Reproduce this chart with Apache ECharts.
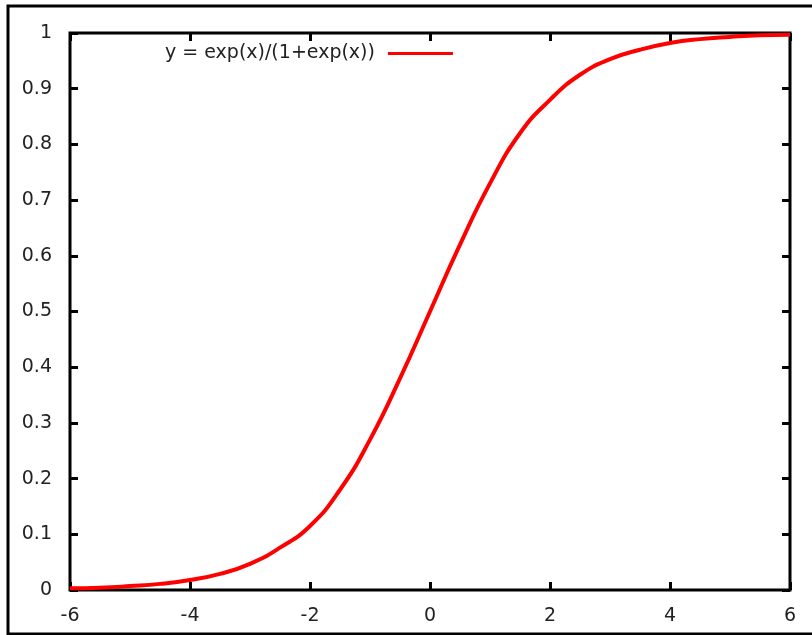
<!DOCTYPE html>
<html>
<head>
<meta charset="utf-8">
<script src="https://cdn.jsdelivr.net/npm/echarts@6/dist/echarts.min.js"></script>
<style>
  html, body { margin: 0; padding: 0; background: #fff; }
  #main { width: 812px; height: 635px; }
</style>
</head>
<body>
<div id="main"></div>
<script>
// values
var xs = [-6, -5.5, -5, -4.5, -4, -3.5, -3, -2.5, -2, -1.5, -1, -0.5, 0,
          0.5, 1, 1.5, 2, 2.5, 3, 3.5, 4, 4.5, 5, 5.5, 6];
var ys = [0.003, 0.004, 0.007, 0.011, 0.018, 0.029, 0.047, 0.076, 0.115, 0.18, 0.27, 0.38, 0.5,
          0.62, 0.73, 0.82, 0.88, 0.925, 0.953, 0.97, 0.982, 0.989, 0.993, 0.996, 0.997];
var seriesName = 'y = exp(x)/(1+exp(x))';

var points = [];
for (var i = 0; i < xs.length; i++) {
    points.push([xs[i], ys[i]]);
}

var fontName = '"DejaVu Sans", Arial, sans-serif';
var labelFont = { fontFamily: fontName, fontSize: 19, color: '#222' };
var tickStyle = { inside: true, length: 8, lineStyle: { color: '#000', width: 3 } };
var noLine = { show: false, onZero: false };

var myChart = echarts.init(document.getElementById('main'), null, { renderer: 'canvas' });

var option = {
    backgroundColor: '#fff',
    animation: false,
    grid: {
        left: 70, top: 33, right: 22, bottom: 45,
        show: true, borderColor: '#000', borderWidth: 3,
        containLabel: false
    },
    legend: {
        left: 160, top: 39,
        align: 'right',
        icon: 'rect',
        itemWidth: 65, itemHeight: 3,
        textStyle: { fontFamily: fontName, fontSize: 19, color: '#222', padding: [0, 8, 0, 0] },
        data: [seriesName]
    },
    xAxis: [{
        type: 'value', min: -6, max: 6, interval: 2,
        axisLine: noLine,
        axisTick: tickStyle,
        splitLine: { show: false },
        axisLabel: Object.assign({ margin: 17 }, labelFont)
    }, {
        type: 'value', position: 'top', min: -6, max: 6, interval: 2,
        axisLine: noLine,
        axisTick: tickStyle,
        splitLine: { show: false },
        axisLabel: { show: false }
    }],
    yAxis: [{
        type: 'value', min: 0, max: 1, interval: 0.1,
        axisLine: noLine,
        axisTick: tickStyle,
        splitLine: { show: false },
        axisLabel: Object.assign({ margin: 18 }, labelFont)
    }, {
        type: 'value', position: 'right', min: 0, max: 1, interval: 0.1,
        axisLine: noLine,
        axisTick: tickStyle,
        splitLine: { show: false },
        axisLabel: { show: false }
    }],
    graphic: [{
        type: 'rect',
        shape: { x: 8, y: 6, width: 830, height: 628 },
        style: { fill: 'none', stroke: '#000', lineWidth: 3 },
        silent: true
    }],
    series: [{
        name: seriesName,
        type: 'line',
        smooth: true,
        symbol: 'none',
        itemStyle: { color: '#f00' },
        lineStyle: { color: '#f00', width: 4 },
        data: points
    }]
};

myChart.setOption(option);
</script>
</body>
</html>
